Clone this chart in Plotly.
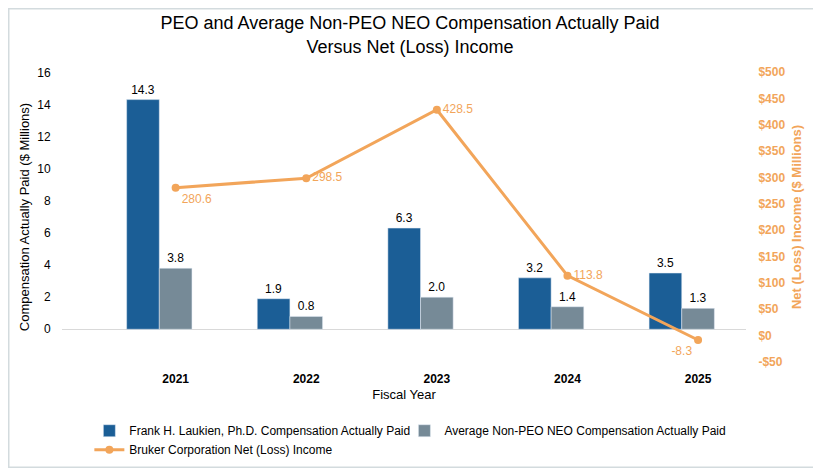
import plotly.graph_objects as go

# chart data
years = ["2021", "2022", "2023", "2024", "2025"]
peo_cap = [14.3, 1.9, 6.3, 3.2, 3.5]
non_peo_cap = [3.8, 0.8, 2.0, 1.4, 1.3]
net_income = [280.6, 298.5, 428.5, 113.8, -8.3]

left_ticks = [0, 2, 4, 6, 8, 10, 12, 14, 16]
right_ticks = [-50, 0, 50, 100, 150, 200, 250, 300, 350, 400, 450, 500]
right_tick_text = ["-$50", "$0", "$50", "$100", "$150", "$200", "$250", "$300",
                   "$350", "$400", "$450", "$500"]

BLUE = "#1B5E96"
GREY = "#768A97"
ORANGE = "#F2A55A"
FONT = "Arial, Liberation Sans, sans-serif"

# the page body adds an 8px margin, so the figure is 8px smaller on each side
W, H = 813, 460

fig = go.Figure()

fig.add_trace(go.Bar(
    x=years, y=peo_cap, name="Frank H. Laukien, Ph.D. Compensation Actually Paid",
    marker_color=BLUE, width=0.25, offset=-0.375, legend="legend",
    text=[f"{v:.1f}" for v in peo_cap], textposition="outside",
    textfont=dict(size=12, color="#000000"), cliponaxis=False,
))
fig.add_trace(go.Bar(
    x=years, y=non_peo_cap, name="Average Non-PEO NEO Compensation Actually Paid",
    marker_color=GREY, width=0.25, offset=-0.125, legend="legend2",
    text=[f"{v:.1f}" for v in non_peo_cap], textposition="outside",
    textfont=dict(size=12, color="#000000"), cliponaxis=False,
))
fig.add_trace(go.Scatter(
    x=years, y=net_income, name="Bruker Corporation Net (Loss) Income",
    yaxis="y2", mode="lines+markers+text", legend="legend",
    line=dict(color=ORANGE, width=3), marker=dict(size=8, color=ORANGE),
    text=[f"{v:.1f}" for v in net_income],
    textposition=["bottom right", "middle right", "middle right", "middle right", "bottom left"],
    textfont=dict(size=12, color=ORANGE), cliponaxis=False,
))

legend_style = dict(
    orientation="v", xanchor="left", y=-0.187, yanchor="top",
    font=dict(size=12), tracegroupgap=0, itemwidth=30, bgcolor="rgba(0,0,0,0)",
)

fig.update_layout(
    width=W, height=H,
    margin=dict(l=54, r=75, t=64, b=106, autoexpand=False),
    paper_bgcolor="white", plot_bgcolor="white",
    font=dict(family=FONT, size=12, color="#000000"),
    title=dict(
        text="PEO and Average Non-PEO NEO Compensation Actually Paid<br>Versus Net (Loss) Income",
        x=0.4945, xref="container", xanchor="center",
        y=0.954, yref="container", yanchor="top",
        font=dict(size=18, color="#000000"), automargin=False,
    ),
    xaxis=dict(
        type="category", range=[-0.87, 4.367], automargin=False,
        showgrid=False, zeroline=False, showline=False,
        ticks="outside", ticklen=6, tickcolor="rgba(0,0,0,0)",
        tickfont=dict(size=12, weight="bold"),
        title=dict(text="Fiscal Year", font=dict(size=13), standoff=4),
    ),
    yaxis=dict(
        range=[-2.04, 16.02], tickvals=left_ticks, automargin=False,
        showgrid=False, zeroline=True, zerolinecolor="#D9D9D9", zerolinewidth=1,
        showline=False, ticks="outside", ticklen=8, tickcolor="rgba(0,0,0,0)",
        tickfont=dict(size=12),
        title=dict(text="Compensation Actually Paid ($ Millions)", font=dict(size=13), standoff=4),
    ),
    yaxis2=dict(
        overlaying="y", side="right", range=[-50, 500], automargin=False,
        tickvals=right_ticks, ticktext=right_tick_text,
        showgrid=False, zeroline=False, showline=False,
        ticks="outside", ticklen=9, tickcolor="rgba(0,0,0,0)",
        tickfont=dict(size=12, color=ORANGE, weight="bold"),
        title=dict(text="Net (Loss) Income ($ Millions)",
                   font=dict(size=13, color=ORANGE, weight="bold"), standoff=7),
    ),
    legend=dict(x=0.04, **legend_style),
    legend2=dict(x=0.5006, **legend_style),
    showlegend=True,
)

# light frame around the whole chart
plot_w, plot_h = W - 54 - 75, H - 64 - 106
fig.add_shape(
    type="rect", xref="paper", yref="paper",
    x0=(0.75 - 54) / plot_w, x1=(W - 0.75 - 54) / plot_w,
    y0=-(106 - 0.75) / plot_h, y1=(plot_h + 64 - 0.75) / plot_h,
    line=dict(color="#D3DBDE", width=1.5), fillcolor="rgba(0,0,0,0)", layer="below",
)

fig.write_html("out.html")
